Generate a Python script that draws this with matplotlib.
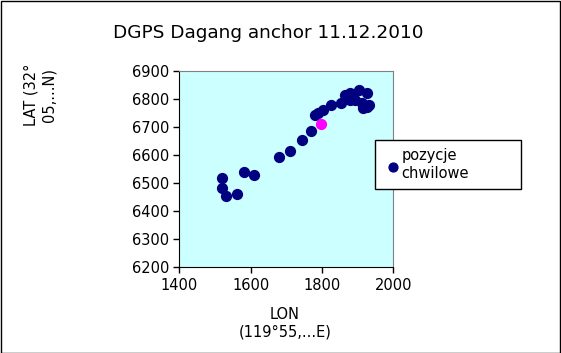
import matplotlib
matplotlib.use("Agg")
import matplotlib.pyplot as plt
from matplotlib.patches import Rectangle

# chwilowe pozycje (LON, LAT offsets)
lon = [1519, 1519, 1531, 1562, 1581, 1610, 1680, 1711, 1745, 1768,
       1780, 1790, 1804, 1824, 1852, 1865, 1879, 1879, 1888, 1893,
       1904, 1925, 1911, 1916, 1925, 1933]
lat = [6518, 6482, 6453, 6460, 6541, 6529, 6592, 6616, 6653, 6686,
       6743, 6749, 6761, 6779, 6787, 6814, 6820, 6797, 6803, 6795,
       6832, 6823, 6785, 6767, 6773, 6779]

# anchor position
anchor_lon = [1796]
anchor_lat = [6711]

x_ticks = [1400, 1600, 1800, 2000]
y_ticks = [6200, 6300, 6400, 6500, 6600, 6700, 6800, 6900]

fig = plt.figure(figsize=(5.61, 3.53), dpi=100)
ax = fig.add_axes([0.3196, 0.2428, 0.3816, 0.5562])
ax.set_facecolor("#ccffff")

ax.scatter(lon, lat, s=50, color="#000080", zorder=3, label="pozycje\nchwilowe")
ax.scatter(anchor_lon, anchor_lat, s=50, color="#ff00ff", zorder=4)

ax.set_xlim(1400, 2000)
ax.set_ylim(6200, 6900)
ax.set_xticks(x_ticks)
ax.set_yticks(y_ticks)
ax.tick_params(direction="out", length=4, width=1, labelsize=10.5, colors="black")

for side in ["top", "right"]:
    ax.spines[side].set_color("#808080")
for side in ["left", "bottom"]:
    ax.spines[side].set_color("black")

fig.text(268 / 561, 1 - 33 / 353, "DGPS Dagang anchor 11.12.2010",
         ha="center", va="center", fontsize=13.3)
fig.text(40 / 561, 1 - 95 / 353, "LAT (32°\n05,...N)", rotation=90,
         ha="center", va="center", multialignment="center", fontsize=10.5)
fig.text(285 / 561, 1 - 323 / 353, "LON\n(119°55,...E)",
         ha="center", va="center", multialignment="center", fontsize=10.5)

leg = ax.legend(loc="upper left", mode="expand",
                bbox_to_anchor=(375 / 561, 1 - 187.5 / 353, 146 / 561, 48 / 353),
                bbox_transform=fig.transFigure, fancybox=False, fontsize=10.5,
                handletextpad=0.0, borderpad=0.6, handlelength=1.2,
                labelspacing=0.2, borderaxespad=0, markerscale=0.9)
leg.get_frame().set_edgecolor("black")
leg.get_frame().set_linewidth(1)
leg.get_frame().set_alpha(1)

# outer frame of the chart
fig.patches.append(Rectangle((0.001, 0.001), 0.997, 0.996, transform=fig.transFigure,
                             fill=False, edgecolor="black", linewidth=1))

fig.savefig("out.png", dpi=100)
